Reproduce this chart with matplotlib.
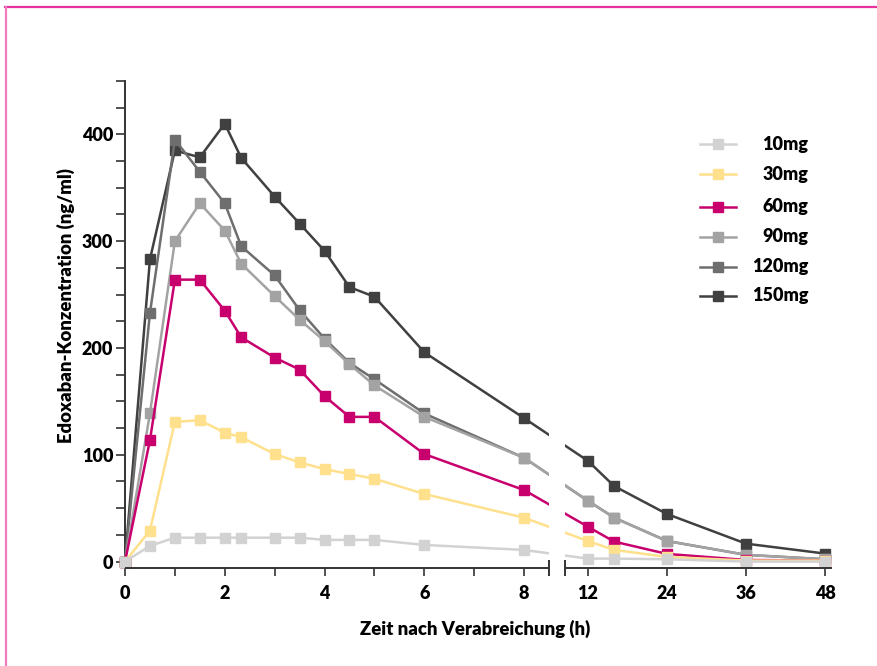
import numpy as np
import matplotlib
matplotlib.use("Agg")
import matplotlib.pyplot as plt
from matplotlib.ticker import MultipleLocator, FixedLocator
from matplotlib.lines import Line2D

FAMILY = 'Lato'
WEIGHT = 800

plt.rcParams['font.family'] = [FAMILY, 'DejaVu Sans']
plt.rcParams['font.weight'] = WEIGHT

# ---------------- data ----------------
times = [0, 0.5, 1, 1.5, 2, 2.33, 3, 3.5, 4, 4.5, 5, 6, 8, 12, 16, 24, 36, 48]
labels = ["10mg", "30mg", "60mg", "90mg", "120mg", "150mg"]
colors = ["#d2d2d2", "#ffe08c", "#c8006e", "#a3a3a3", "#6e6e6e", "#404040"]

c10 = [0, 14.7, 22.4, 22.4, 22.4, 22.4, 22.4, 22.4, 20.3, 20.3, 20.3, 15.6, 10.9, 2.8, 2.8, 2.2, 0.0, 0.0]
c30 = [0, 29, 130.8, 132.4, 120.6, 116.5, 100.7, 92.9, 86.6, 82, 77.6, 63.3, 41.1, 19.3, 10.9, 4.4, 1.0, 1.0]
c60 = [0, 113.7, 264, 264, 235, 210, 191, 179.8, 154.9, 135.5, 135.5, 100.7, 67, 32.7, 18.7, 7.2, 1.5, 1.0]
c90 = [0, 138.7, 300, 335.5, 310, 278.9, 248.6, 226.5, 206.5, 184.8, 165, 135.5, 97.2, 57, 41.1, 19.3, 6.3, 2.2]
c120 = [0, 232.7, 395, 365, 335.5, 295.3, 268, 235.5, 208.8, 186, 170.7, 138.7, 97.2, 57, 41.1, 19.3, 6.3, 2.2]
c150 = [0, 283, 385, 378.5, 410, 378, 341.8, 316.5, 291, 257, 248, 196, 134.3, 94.4, 70.7, 44.6, 16.8, 7.5]
series = [c10, c30, c60, c90, c120, c150]

major_xticks = [0, 2, 4, 6, 8, 12, 24, 36, 48]
minor_xticks = [1, 3, 5, 7]
yticks = [0, 100, 200, 300, 400]

# ---------------- broken x scale ----------------
L_END = 8.5
R_START = 8.602
PX_L = 49.88
PX_R = 6.592
U_L = L_END * PX_L
U_R = U_L + 16.4


def fwd(h):
    h = np.asarray(h, dtype=float)
    return np.where(h <= L_END, h * PX_L,
                    np.where(h <= R_START,
                             U_L + (h - L_END) * (U_R - U_L) / (R_START - L_END),
                             U_R + (h - R_START) * PX_R))


def inv(u):
    u = np.asarray(u, dtype=float)
    return np.where(u <= U_L, u / PX_L,
                    np.where(u <= U_R,
                             L_END + (u - U_L) * (R_START - L_END) / (U_R - U_L),
                             R_START + (u - U_R) / PX_R))


FS = 13
W, H = 877, 666
fig = plt.figure(figsize=(W / 100, H / 100), dpi=100)
ax = fig.add_axes([125 / W, (H - 568) / H, (831.7 - 125) / W, (568 - 81) / H])
ax.set_xscale('function', functions=(fwd, inv))
ax.set_xlim(0, 49.0)
ax.set_ylim(-6, 450)

n = len(series)
for i in range(n - 1, -1, -1):
    ax.plot(times, series[i], color=colors[i], lw=1.8, marker='s', ms=6.5,
            mec=colors[i], mfc=colors[i], zorder=3 + (n - i), clip_on=False)

ax.axvspan(L_END, R_START, color='white', zorder=20, lw=0)

for s in ['top', 'right', 'bottom']:
    ax.spines[s].set_visible(False)
ax.spines['left'].set_color('#333333')
ax.spines['left'].set_linewidth(1.4)

trans = ax.get_xaxis_transform()
ax.plot([0, L_END], [0, 0], color='#333333', lw=1.4, transform=trans, clip_on=False, zorder=25, solid_capstyle='butt')
ax.plot([R_START, 49.0], [0, 0], color='#333333', lw=1.4, transform=trans, clip_on=False, zorder=25, solid_capstyle='butt')
ax.plot([L_END, R_START], [0, 0], ls='none', marker='|', ms=11, mew=1.4, color='#333333',
        transform=trans, clip_on=False, zorder=26)

ax.xaxis.set_major_locator(FixedLocator(major_xticks))
ax.xaxis.set_minor_locator(FixedLocator(minor_xticks))
ax.set_xticklabels([str(t) for t in major_xticks])
ax.yaxis.set_major_locator(FixedLocator(yticks))
ax.yaxis.set_minor_locator(MultipleLocator(25))
ax.tick_params(axis='x', which='both', direction='out', length=6, width=1.2, color='#333333',
               pad=6, labelsize=FS)
ax.tick_params(axis='y', which='both', direction='out', length=6.5, width=1.2, color='#333333',
               pad=2, labelsize=FS)
for lab in ax.get_xticklabels() + ax.get_yticklabels():
    lab.set_fontweight(WEIGHT)

fig.text(475.5 / W, 1 - 629 / H, "Zeit nach Verabreichung (h)", ha='center', va='center',
         fontsize=13.3, fontweight=WEIGHT)
fig.text(66 / W, 1 - 306 / H, "Edoxaban-Konzentration (ng/ml)", ha='center', va='center',
         rotation=90, fontsize=13.3, fontweight=WEIGHT)

rows_y = [144.3, 174.3, 206.7, 236.7, 266.7, 296.0]
for lab, col, ry in zip(labels, colors, rows_y):
    yf = 1 - ry / H
    fig.add_artist(Line2D([700 / W, 735.7 / W], [yf, yf], color=col, lw=1.8,
                          transform=fig.transFigure))
    fig.add_artist(Line2D([717.8 / W], [yf], color=col, marker='s', ms=6.5, ls='none',
                          transform=fig.transFigure))
    fig.text(808.3 / W, yf, lab, ha='right', va='center', fontsize=FS, fontweight=WEIGHT)

fig.add_artist(Line2D([5 / W, 1.0], [1 - 6.5 / H, 1 - 6.5 / H], color='#e8309e', lw=1.6,
                      transform=fig.transFigure))
fig.add_artist(Line2D([5.5 / W, 5.5 / W], [0, 1 - 6.5 / H], color='#f07cc0', lw=1.6,
                      transform=fig.transFigure))

fig.savefig("out.png", dpi=100)
